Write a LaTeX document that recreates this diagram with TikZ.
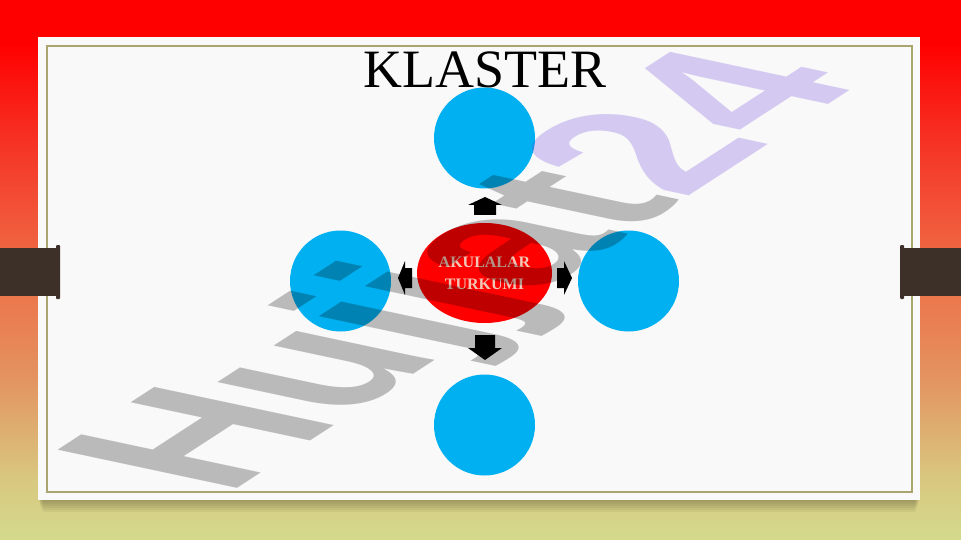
\documentclass[tikz,border=0pt]{standalone}
\usepackage{fontspec}
\setmainfont{Liberation Serif}
\newfontfamily\wmfont{Liberation Sans}
\usetikzlibrary{shapes.geometric}
\definecolor{bgA}{RGB}{212,218,140}
\definecolor{bgB}{RGB}{216,200,128}
\definecolor{bgC}{RGB}{228,145,95}
\definecolor{bgD}{RGB}{238,110,70}
\definecolor{bgE}{RGB}{245,55,40}
\definecolor{bgF}{RGB}{255,0,0}
\definecolor{panelc}{RGB}{249,249,249}
\definecolor{linec}{RGB}{170,165,110}
\definecolor{tabc}{RGB}{60,48,40}
\definecolor{cblue}{RGB}{0,176,240}
\definecolor{txtpink}{RGB}{242,198,182}
\definecolor{wmpurple}{RGB}{105,61,217}
\pgfdeclareverticalshading{bgshade}{100bp}{color(0bp)=(bgA); color(25bp)=(bgA); color(30.5bp)=(bgB); color(40.5bp)=(bgC); color(50bp)=(bgD); color(61bp)=(bgE); color(71bp)=(bgF); color(75bp)=(bgF); color(100bp)=(bgF)}
\begin{document}
\begin{tikzpicture}[x=1pt,y=-1pt,
  blob/.style={circle,fill=cblue,minimum size=101pt,inner sep=0pt},
  blockarrow/.style={fill=black},
  tab/.style={fill=tabc}]
\useasboundingbox (0,0) rectangle (961,540);
\shade[shading=bgshade] (0,0) rectangle (961,540);
% panel shadow
\foreach \d in {2,4,6,8,10,12}
  \fill[black,opacity=0.045] (38+0.4*\d,37+\d) rectangle (920-0.4*\d,500+\d);
\fill[panelc] (38,37) rectangle (920,500);
\draw[linec,line width=1.3pt] (47,46) rectangle (912,492);
% tabs
\fill[tab] (0,248) rectangle (58,296);
\fill[tab,rounded corners=1pt] (56,245) rectangle (60,299);
\fill[tab] (903,248) rectangle (961,296);
\fill[tab,rounded corners=1pt] (900,245) rectangle (904,299);
% title
\node[anchor=base,inner sep=0pt,font=\fontsize{54}{60}\selectfont] (title) at (485,88) {KLASTER};
% circles
\node[blob] (top) at (484.5,138) {};
\node[blob] (left) at (340.5,281) {};
\node[blob] (right) at (628.5,281) {};
\node[blob] (bottom) at (484.5,425) {};
% centre
\node[ellipse,fill=red,minimum width=135pt,minimum height=100pt,inner sep=0pt] (centre) at (484.5,273) {};
\node[font=\bfseries\fontsize{16}{22}\selectfont,text=txtpink,align=center,inner sep=0pt] (label) at (484.5,273) {AKULALAR\\TURKUMI};
% block arrows
\fill[blockarrow] (474,215)--(474,205)--(468,205)--(485,197)--(502,205)--(496,205)--(496,215)--cycle;
\fill[blockarrow] (475,335)--(495,335)--(495,348)--(502,348)--(485,360)--(468,348)--(475,348)--cycle;
\fill[blockarrow] (412,268)--(405,268)--(405,261)--(398,278)--(405,295)--(405,288)--(412,288)--cycle;
\fill[blockarrow] (557,268)--(564,268)--(564,261)--(572,278)--(564,295)--(564,288)--(557,288)--cycle;
% watermark
\node[cm={1.645,1.068,-2.609,0.555,(226,496)},transform shape,anchor=base west,inner sep=0pt,
  font=\wmfont\bfseries\fontsize{100}{100}\selectfont,text opacity=0.25] (wm) at (0,0)
  {\textcolor{black}{Hujjat}\textcolor{wmpurple}{24}};
\end{tikzpicture}
\end{document}
